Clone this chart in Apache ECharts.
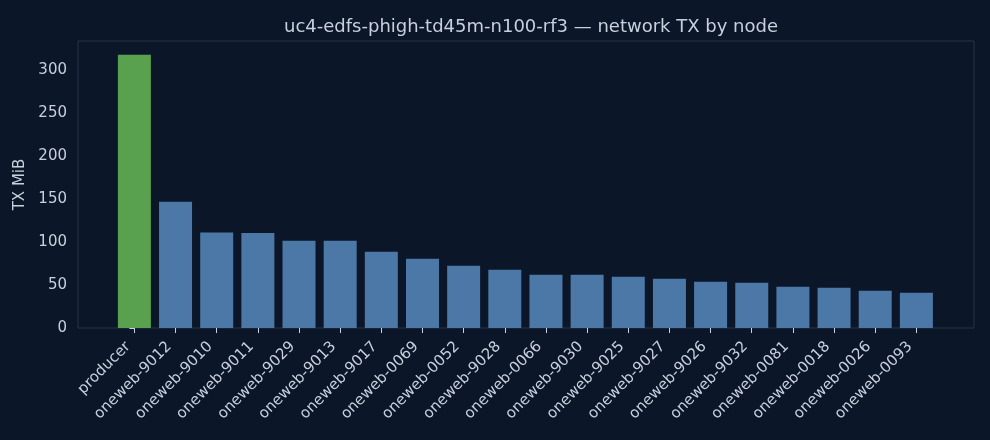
<!DOCTYPE html>
<html>
<head>
<meta charset="utf-8">
<script src="https://cdn.jsdelivr.net/npm/echarts@6/dist/echarts.min.js"></script>
<style>
  html, body { margin: 0; padding: 0; background: #0b1628; }
  #chart { width: 990px; height: 440px; }
</style>
</head>
<body>
<div id="chart"></div>
<script>
// Data
const nodes = [
    'producer', 'oneweb-9012', 'oneweb-9010', 'oneweb-9011', 'oneweb-9029',
    'oneweb-9013', 'oneweb-9017', 'oneweb-0069', 'oneweb-0052', 'oneweb-9028',
    'oneweb-0066', 'oneweb-9030', 'oneweb-9025', 'oneweb-9027', 'oneweb-9026',
    'oneweb-9032', 'oneweb-0081', 'oneweb-0018', 'oneweb-0026', 'oneweb-0093'
];
const txMiB = [
    318, 147, 111, 110.5, 101.5,
    101.5, 88.7, 80.6, 72.4, 67.8,
    62, 62, 59.7, 57.3, 53.8,
    52.7, 48, 46.9, 43.4, 41
];
const yTicks = [0, 50, 100, 150, 200, 250, 300];

const textColor = '#c7d0dc';
const frameColor = '#26344a';
const producerColor = '#59a14f';
const nodeColor = '#4c78a8';

const chart = echarts.init(document.getElementById('chart'));

const nodeIndexes = nodes.map((name, i) => i);

const options = {
    backgroundColor: '#0b1628',
    textStyle: {
        fontFamily: 'DejaVu Sans'
    },
    title: {
        text: 'uc4-edfs-phigh-td45m-n100-rf3 \u2014 network TX by node',
        left: 526,
        textAlign: 'center',
        top: 13,
        textStyle: {
            color: textColor,
            fontSize: 18,
            fontWeight: 'normal',
            fontFamily: 'DejaVu Sans'
        }
    },
    grid: {
        left: 78,
        right: 16,
        top: 41,
        bottom: 112,
        show: true,
        borderColor: frameColor,
        borderWidth: 1,
        backgroundColor: 'transparent'
    },
    xAxis: {
        type: 'value',
        min: -1.37,
        max: 20.4,
        splitLine: { show: false },
        axisLine: { show: false },
        axisTick: {
            show: true,
            length: 5,
            customValues: nodeIndexes,
            lineStyle: { color: textColor }
        },
        axisLabel: {
            customValues: nodeIndexes,
            rotate: 45,
            margin: 10,
            padding: [0, 9, 0, 0],
            color: textColor,
            fontSize: 15,
            formatter: (value) => nodes[Math.round(value)]
        }
    },
    yAxis: {
        type: 'value',
        min: 0,
        max: 334,
        name: 'TX MiB',
        nameLocation: 'middle',
        nameGap: 44,
        nameTextStyle: {
            color: textColor,
            fontSize: 15
        },
        splitLine: { show: false },
        axisLine: { show: false },
        axisTick: {
            show: true,
            length: 5,
            customValues: yTicks,
            lineStyle: { color: textColor }
        },
        axisLabel: {
            customValues: yTicks,
            color: textColor,
            fontSize: 15,
            margin: 11
        }
    },
    series: [
        {
            type: 'bar',
            barWidth: 33,
            data: txMiB.map((v, i) => ({
                value: [i, v],
                itemStyle: { color: i === 0 ? producerColor : nodeColor }
            }))
        }
    ]
};

chart.setOption(options);
</script>
</body>
</html>
